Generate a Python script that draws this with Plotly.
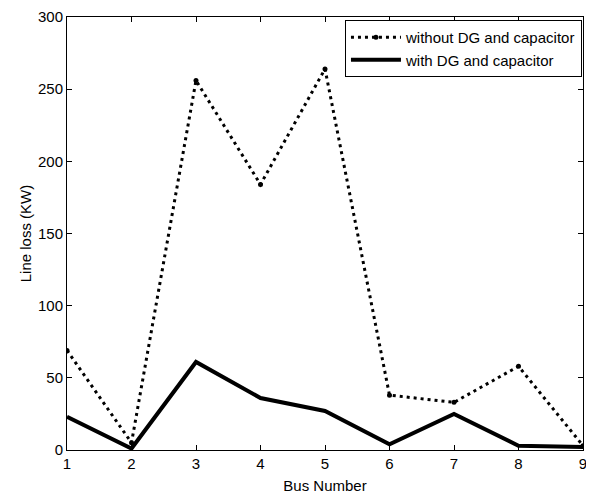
import plotly.graph_objects as go

bus = [1, 2, 3, 4, 5, 6, 7, 8, 9]
without_dg = [69, 5, 256, 184, 264, 38, 33, 58, 3]
with_dg = [23, 1, 61, 36, 27, 4, 25, 3, 2]
y_ticks = [0, 50, 100, 150, 200, 250, 300]

FONT = "Liberation Sans, Arial, sans-serif"

fig = go.Figure()
fig.add_trace(go.Scatter(
    x=bus, y=without_dg, mode="lines+markers", name="without DG and capacitor",
    line=dict(color="black", width=3, dash="3px,4px"),
    marker=dict(color="black", size=5, symbol="circle"),
))
fig.add_trace(go.Scatter(
    x=bus, y=with_dg, mode="lines", name="with DG and capacitor",
    line=dict(color="black", width=4),
))

axis_common = dict(
    showline=True, linecolor="black", linewidth=1, mirror="ticks",
    ticks="inside", ticklen=5, tickcolor="black", showgrid=False, zeroline=False,
    tickfont=dict(family=FONT, size=15, color="black"),
    automargin=False,
)

fig.update_layout(
    width=594, height=496,
    margin=dict(l=59, r=19, t=9, b=54),
    paper_bgcolor="white", plot_bgcolor="white",
    font=dict(family=FONT, color="black"),
    xaxis=dict(range=[1, 9], tickmode="array", tickvals=bus,
               title=dict(text="Bus Number", font=dict(family=FONT, size=15), standoff=9),
               **axis_common),
    yaxis=dict(range=[0, 300], tickmode="array", tickvals=y_ticks,
               title=dict(text="Line loss (KW)", font=dict(family=FONT, size=15), standoff=2),
               **axis_common),
    legend=dict(x=0.998, y=0.993, xanchor="right", yanchor="top",
                bordercolor="black", borderwidth=1, bgcolor="white",
                font=dict(family=FONT, size=15), tracegroupgap=0,
                itemwidth=50),
    showlegend=True,
)

fig.write_html("out.html")
